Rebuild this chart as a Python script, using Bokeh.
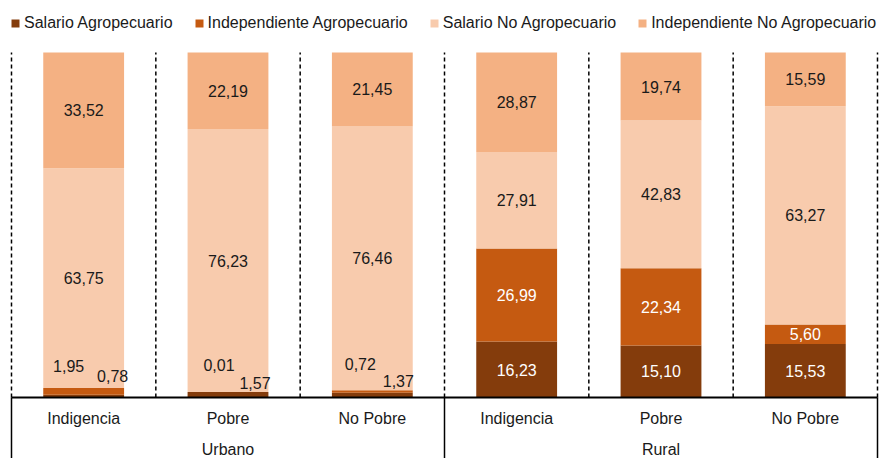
from bokeh.plotting import figure
from bokeh.models import ColumnDataSource, FactorRange, Range1d, Legend, LegendItem
from bokeh.core.properties import value
from bokeh.embed import file_html
from bokeh.resources import INLINE

# ---- data ----
groups = ["Urbano", "Urbano", "Urbano", "Rural", "Rural", "Rural"]
categories = ["Indigencia", "Pobre", "No Pobre", "Indigencia", "Pobre", "No Pobre"]
group_names = ["Urbano", "Rural"]
series_names = ["Salario Agropecuario", "Independiente Agropecuario",
                "Salario No Agropecuario", "Independiente No Agropecuario"]
salario_agro = [0.78, 1.57, 1.37, 16.23, 15.10, 15.53]
indep_agro = [1.95, 0.01, 0.72, 26.99, 22.34, 5.60]
salario_no_agro = [63.75, 76.23, 76.46, 27.91, 42.83, 63.27]
indep_no_agro = [33.52, 22.19, 21.45, 28.87, 19.74, 15.59]

# ---- styles ----
colors = ["#843C0C", "#C55A11", "#F8CBAD", "#F4B183"]
label_colors = ["#FFFFFF", "#FFFFFF", "#1A1A1A", "#1A1A1A"]
FONT = value("Liberation Sans")
TXT = "#1A1A1A"
# pixel nudges for the tiny urban labels: (series index, bar index) -> (dx, dy)
nudges = {(0, 0): (29, -20), (1, 0): (-15, -25),
          (0, 1): (27, -12), (1, 1): (-9, -27),
          (0, 2): (26, -14), (1, 2): (-12, -28)}

series = [salario_agro, indep_agro, salario_no_agro, indep_no_agro]
keys = ["s0", "s1", "s2", "s3"]
x = list(zip(groups, categories))

data = {"x": x}
for k, s in zip(keys, series):
    data[k] = s
src = ColumnDataSource(data)

xr = FactorRange(*x, factor_padding=0, group_padding=0, subgroup_padding=0,
                 range_padding=0.04155, range_padding_units="absolute")
p = figure(width=883, height=458, x_range=xr, y_range=Range1d(-17.68, 115.07),
           output_backend="svg", toolbar_location=None,
           x_axis_location=None, y_axis_location=None,
           min_border_left=5, min_border_right=0, min_border_top=0, min_border_bottom=0)
p.grid.visible = False
p.outline_line_color = None
p.background_fill_color = "white"

rends = p.vbar_stack(keys, x="x", width=0.56, source=src, color=colors, line_color=None)

# ---- value labels ----
lx, ly, lt, lc, dx, dy = [], [], [], [], [], []
for i in range(len(x)):
    base = 0.0
    for si, s in enumerate(series):
        v = s[i]
        lx.append(x[i])
        ly.append(base + v / 2)
        lt.append(f"{v:.2f}".replace(".", ","))
        d = nudges.get((si, i))
        if d is None:
            lc.append(label_colors[si])
            d = (0, 0)
        else:
            lc.append(TXT)
        dx.append(d[0])
        dy.append(d[1])
        base += v
lsrc = ColumnDataSource(dict(x=lx, y=ly, t=lt, c=lc, dx=dx, dy=dy))
p.text(x="x", y="y", text="t", source=lsrc, text_color="c", x_offset="dx", y_offset="dy",
       text_align="center", text_baseline="middle", text_font=FONT, text_font_size="16px")

# ---- separators / axis ----
edges = [(g, c, -0.5) for g, c in x] + [(groups[-1], categories[-1], 0.5)]
p.segment(x0=edges, y0=[0] * len(edges), x1=edges, y1=[100] * len(edges),
          line_color="black", line_width=1.5, line_dash="4 3")
solid = [edges[0], edges[3], edges[-1]]
p.segment(x0=solid, y0=[0] * 3, x1=solid, y1=[-20] * 3, line_color="black", line_width=1.5)
p.segment(x0=[edges[0]], y0=[0], x1=[edges[-1]], y1=[0], line_color="black", line_width=2)

# category and group labels
p.text(x=x, y=[-6.1] * len(x), text=categories, text_align="center", text_baseline="middle",
       text_font=FONT, text_font_size="16px", text_color=TXT)
mid = [(g, "Pobre") for g in group_names]
p.text(x=mid, y=[-15.2] * 2, text=group_names, text_align="center", text_baseline="middle",
       text_font=FONT, text_font_size="16px", text_color=TXT)

# ---- legend ----
legend = Legend(items=[LegendItem(label=n, renderers=[r]) for n, r in zip(series_names, rends)],
                orientation="horizontal", location=(5, 426), padding=0, margin=0,
                spacing=21, glyph_width=10, glyph_height=10, label_standoff=4,
                label_text_font="Liberation Sans", label_text_font_size="16px",
                label_text_color=TXT, border_line_color=None, background_fill_alpha=0)
p.add_layout(legend, "center")

open("out.html", "w").write(file_html(p, INLINE))
